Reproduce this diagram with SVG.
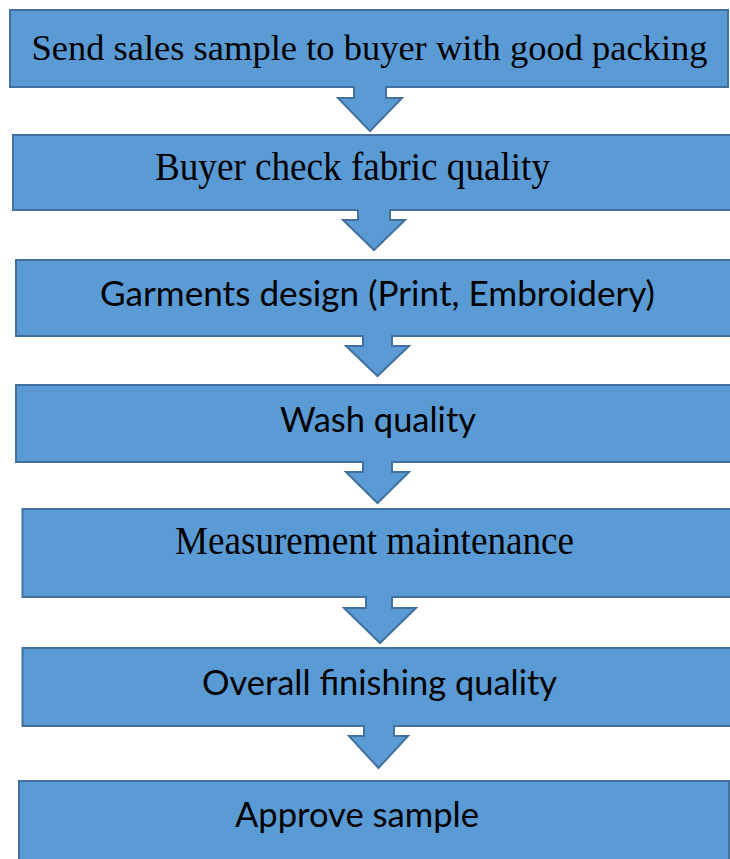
<svg xmlns="http://www.w3.org/2000/svg" width="730" height="859" viewBox="0 0 730 859">
  <style>
    .box { fill: #5B9BD5; stroke: #41719C; stroke-width: 2; }
    .arrow { fill: #5B9BD5; stroke: #41719C; stroke-width: 2; stroke-linejoin: miter; }
    .serif { font-family: "Liberation Serif", "Times New Roman", serif; font-size: 40px; fill: #000; }
    .sans { font-family: "Lato", "Liberation Sans", sans-serif; font-size: 34px; fill: #000; }
  </style>
  <rect width="730" height="859" fill="#ffffff"/>

  <g id="step-send-sample">
    <rect class="box" x="10" y="10" width="718" height="77"/>
    <text class="serif" x="369.5" y="60" style="font-size:36.5px" text-anchor="middle">Send sales sample to buyer with good packing</text>
  </g>

  <g id="step-fabric-quality">
    <rect class="box" x="13" y="135" width="722" height="75"/>
    <text class="serif" x="155" y="180" textLength="395" lengthAdjust="spacingAndGlyphs">Buyer check fabric quality</text>
  </g>

  <g id="step-garments-design">
    <rect class="box" x="16" y="260" width="720" height="76"/>
    <text class="sans" x="100" y="306" textLength="555" lengthAdjust="spacingAndGlyphs">Garments design (Print, Embroidery)</text>
  </g>

  <g id="step-wash-quality">
    <rect class="box" x="16" y="385" width="720" height="77"/>
    <text class="sans" x="280" y="432" textLength="196" lengthAdjust="spacingAndGlyphs">Wash quality</text>
  </g>

  <g id="step-measurement">
    <rect class="box" x="22.5" y="509" width="714" height="88"/>
    <text class="serif" x="175" y="554" textLength="399" lengthAdjust="spacingAndGlyphs">Measurement maintenance</text>
  </g>

  <g id="step-finishing">
    <rect class="box" x="22.5" y="648" width="714" height="78"/>
    <text class="sans" x="202" y="695" textLength="355" lengthAdjust="spacingAndGlyphs">Overall finishing quality</text>
  </g>

  <g id="step-approve">
    <rect class="box" x="19" y="781" width="710" height="90"/>
    <text class="sans" x="235" y="827" textLength="244" lengthAdjust="spacingAndGlyphs">Approve sample</text>
  </g>

  <!-- block arrows between the steps; top edge left open so the stem merges into the box above -->
  <g id="connectors">
    <path class="arrow" d="M354,86 L354,98 L338,98 L370,131 L402,98 L386,98 L386,86"/>
    <path class="arrow" d="M358,209 L358,220 L343,220 L374,250 L405,220 L390,220 L390,209"/>
    <path class="arrow" d="M363,335 L363,346 L346,346 L377.5,376 L409,346 L392,346 L392,335"/>
    <path class="arrow" d="M363,461 L363,472 L346,472 L377.5,503 L409,472 L392,472 L392,461"/>
    <path class="arrow" d="M366,596 L366,608 L344,608 L380,643 L416,608 L392,608 L392,596"/>
    <path class="arrow" d="M364,725 L364,736 L349,736 L378.5,768 L408,736 L394,736 L394,725"/>
  </g>
</svg>
